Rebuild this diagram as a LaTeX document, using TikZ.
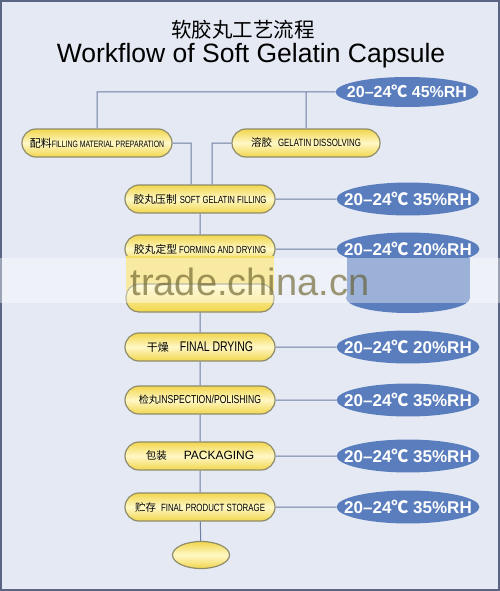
\documentclass[tikz,border=0pt]{standalone}
\usepackage{fontspec}
\setmainfont{Liberation Sans}
\newfontfamily\cjk{Noto Sans CJK SC}
\newfontfamily\narrow[FakeStretch=0.75]{Liberation Sans}
\usetikzlibrary{shapes.geometric, positioning, calc}
\definecolor{bg}{HTML}{E4E9F3}
\definecolor{rim}{HTML}{8F8C6C}
\definecolor{yel}{HTML}{F1D64C}
\definecolor{yellite}{HTML}{FFF8C6}
\definecolor{rh}{HTML}{5A7DBE}
\definecolor{linec}{HTML}{6F7FA2}
\newcommand\zh[2]{{\cjk\fontsize{#1}{#1}\selectfont #2}}
\newcommand\en[2]{{\narrow\fontsize{#1}{#1}\selectfont #2}}

\begin{document}
\begin{tikzpicture}[x=1pt, y=-1pt,
    proc/.style={draw=rim, line width=1.2pt, rounded corners=14pt, minimum width=150pt,
        minimum height=28pt, inner sep=0pt, top color=yel, bottom color=yel, middle color=yellite},
    cond/.style={ellipse, fill=rh, text=white, inner sep=0pt, text height=17.75pt, text depth=5.55pt,
        execute at begin node={\hbox to 101pt\bgroup\hss}, execute at end node={\hss\egroup},
        font=\fontsize{17}{17}\selectfont\bfseries},
    link/.style={draw=linec, line width=1pt}]
    \useasboundingbox (0,0) rectangle (500,591);
    \fill[bg] (0,0) rectangle (500,591);
    \draw[linec!80!black, line width=2pt] (1,1) rectangle (499,590);

    % titles
    \node (cn) at (243,30) {\zh{20.5}{软胶丸工艺流程}};
    \node[font=\fontsize{26.5}{26.5}\selectfont] (en) at (251,56) {Workflow of Soft Gelatin Capsule};

    % steps
    \node[cond, text height=16.35pt, text depth=4.85pt, font=\fontsize{16}{16}\selectfont\bfseries] (t0) at (407,92) {20–24{\cjk ℃} 45\%RH};
    \node[proc] (b1) at (97,143) {\zh{11}{配料}\en{9.2}{FILLING MATERIAL PREPARATION}};
    \node[proc, minimum width=148pt] (b2) at (306,143) {\zh{10.5}{溶胶}\hspace{6pt}\en{10.5}{GELATIN DISSOLVING}};
    \node[proc] (b3) at (200,199) {\zh{10.8}{胶丸压制}\hspace{3pt}\en{10.3}{SOFT GELATIN FILLING}};
    \node[proc] (b4) at (200,249) {\zh{10.8}{胶丸定型}\hspace{2pt}\en{10.3}{FORMING AND DRYING}};
    \node[proc] (b5) at (200,347) {\zh{11}{干燥}\hspace{11pt}\en{14}{FINAL DRYING}};
    \node[proc] (b6) at (200,400) {\zh{10}{检丸}\en{11.5}{INSPECTION/POLISHING}};
    \node[proc] (b7) at (200,456) {\zh{10.5}{包装}\hspace{17pt}{\fontsize{12}{12}\selectfont PACKAGING}};
    \node[proc] (b8) at (200,507) {\zh{10.5}{贮存}\hspace{5pt}\en{10.5}{FINAL PRODUCT STORAGE}};
    \node[proc, ellipse, minimum width=57pt, minimum height=27pt] (e) at (201,555) {};

    \node[cond] (r3) at (408,199) {20–24{\cjk ℃} 35\%RH};
    \node[cond] (r4) at (408,249) {20–24{\cjk ℃} 20\%RH};
    \node[cond] (r5) at (408,347) {20–24{\cjk ℃} 20\%RH};
    \node[cond] (r6) at (408,400) {20–24{\cjk ℃} 35\%RH};
    \node[cond] (r7) at (408,456) {20–24{\cjk ℃} 35\%RH};
    \node[cond] (r8) at (408,507) {20–24{\cjk ℃} 35\%RH};

    \draw[link]
    (b1.north) |- (t0)
    (b2.north) -- (b2.north |- t0.west)
    (b1.east) -| ([xshift=-9pt]b3.north)
    (b2.west) -| ([xshift=12pt]b3.north)
    (b3) -- (b4) -- (b5) -- (b6) -- (b7) -- (b8) -- (e)
    (b3) -- (r3) (b4) -- (r4) (b5) -- (r5)
    (b6) -- (r6) (b7) -- (r7) (b8) -- (r8);

    % watermark band
    \fill[yel!80!yellite] (126.4,256) rectangle (273.6,292);
    \draw[draw=rim, line width=1.2pt, rounded corners=13pt, top color=yellite, bottom color=yel] (126,284) rectangle (274,312);
    \fill[rh] (347,258) rectangle (470,298);
    \fill[rh] (408,298) ellipse (62pt and 15pt);
    \fill[white, opacity=.4] (0,258) rectangle (500,303);
    \node[text=black!60!yel, opacity=.6, font=\fontsize{38}{38}\selectfont] (wm) at (250,282) {trade.china.cn};
\end{tikzpicture}
\end{document}
